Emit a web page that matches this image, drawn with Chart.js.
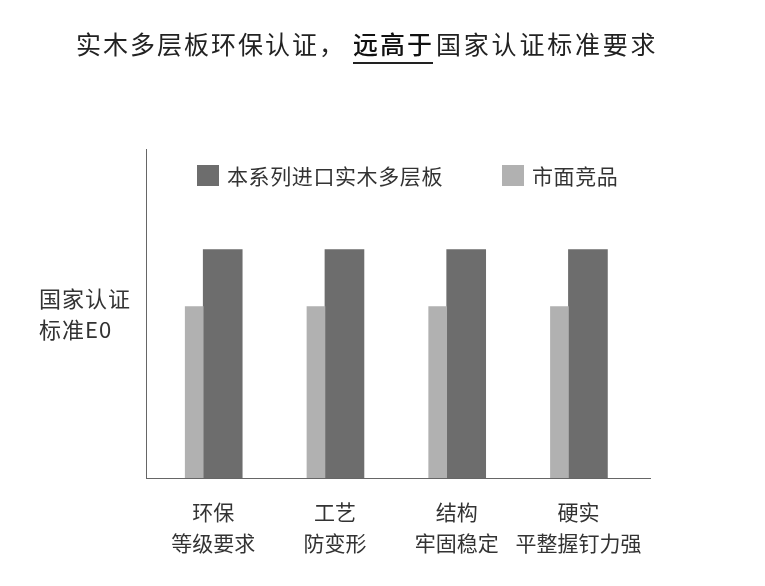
<!DOCTYPE html>
<html lang="zh-CN">
  <head>
    <meta charset="UTF-8" />
    <meta name="viewport" content="width=device-width, initial-scale=1.0" />
    <title>实木多层板环保认证</title>
    <style>
      html, body { margin: 0; padding: 0; background: #fff; }
      #wrap { width: 765px; height: 586px; }
    </style>
  </head>
  <body>
    <div id="wrap"><canvas id="myChart"></canvas></div>
  </body>
  <script src="https://cdn.jsdelivr.net/npm/chart.js"></script>
  <script>
    // Categories (two lines each), series names and values
    let categories = [
      ["环保", "等级要求"],
      ["工艺", "防变形"],
      ["结构", "牢固稳定"],
      ["硬实", "平整握钉力强"],
    ];
    let seriesNames = ["市面竞品", "本系列进口实木多层板"];
    let marketValues = [75, 75, 75, 75];
    let ourValues = [100, 100, 100, 100];
    let yAxisLabel = ["国家认证", "标准E0"];
    let titleParts = ["实木多层板环保认证，", "远高于", "国家认证标准要求"];

    const FONT = "'Noto Sans CJK SC', 'Noto Sans', sans-serif";
    const DARK = "#6d6d6d";
    const LIGHT = "#b1b1b1";

    function drawText(ctx, text, x, y, size, weight, color, spacing) {
      ctx.font = weight + " " + size + "px " + FONT;
      ctx.fillStyle = color;
      ctx.letterSpacing = spacing + "px";
      ctx.textAlign = "left";
      ctx.textBaseline = "middle";
      ctx.fillText(text, x, y);
    }

    // title, y label and legend drawn on top of the chart
    const decor = {
      id: "decor",
      afterDraw(chart) {
        const ctx = chart.ctx;
        ctx.save();

        // title
        drawText(ctx, titleParts[0], 76, 44, 25, "normal", "#222", 2);
        drawText(ctx, titleParts[1], 353, 44, 25, "500", "#111", 2);
        drawText(ctx, titleParts[2], 436, 44, 25, "normal", "#222", 2.8);
        ctx.fillStyle = "#222";
        ctx.fillRect(353, 62, 80, 2);

        // y axis label
        drawText(ctx, yAxisLabel[0], 39, 299, 22, "normal", "#333", 1);
        drawText(ctx, yAxisLabel[1], 39, 330, 22, "normal", "#333", 1);

        // legend (ours first)
        const items = [
          { ds: chart.data.datasets[1], x: 197 },
          { ds: chart.data.datasets[0], x: 502 },
        ];
        items.forEach((it) => {
          ctx.fillStyle = it.ds.backgroundColor;
          ctx.fillRect(it.x, 165, 22, 21);
          drawText(ctx, it.ds.label, it.x + 30, 176, 21, "normal", "#333", 0.6);
        });

        ctx.restore();
      },
    };

    var ctx = document.getElementById("myChart").getContext("2d");
    var chart = new Chart(ctx, {
      type: "bar",
      data: {
        datasets: [
          {
            label: seriesNames[0],
            backgroundColor: LIGHT,
            barThickness: 18,
            data: marketValues.map((v, i) => ({ x: i, y: v })),
          },
          {
            label: seriesNames[1],
            backgroundColor: DARK,
            barThickness: 39,
            data: ourValues.map((v, i) => ({ x: i, y: v })),
          },
        ],
      },
      options: {
        responsive: true,
        maintainAspectRatio: false,
        animation: false,
        layout: { padding: { left: 146, right: 115, top: 149, bottom: 0 } },
        plugins: {
          legend: { display: false },
          tooltip: { enabled: false },
        },
        scales: {
          x: {
            type: "linear",
            min: -0.47,
            max: 3.67,
            offset: false,
            grid: { display: false, drawTicks: false },
            border: { display: true, color: "#666", width: 1 },
            afterBuildTicks: (scale) => {
              scale.ticks = categories.map((c, i) => ({ value: i }));
            },
            afterFit: (scale) => {
              scale.height = 108;
            },
            ticks: {
              autoSkip: false,
              maxRotation: 0,
              padding: 18,
              labelOffset: 10,
              color: "#333",
              font: { family: FONT, size: 21, lineHeight: 1.48 },
              callback: (value) => categories[value],
            },
          },
          y: {
            min: 0,
            max: 144,
            grid: { display: false, drawTicks: false },
            border: { display: true, color: "#666", width: 1 },
            ticks: { display: false },
            afterFit: (scale) => {
              scale.width = 0;
            },
          },
        },
      },
      plugins: [decor],
    });
  </script>
</html>
